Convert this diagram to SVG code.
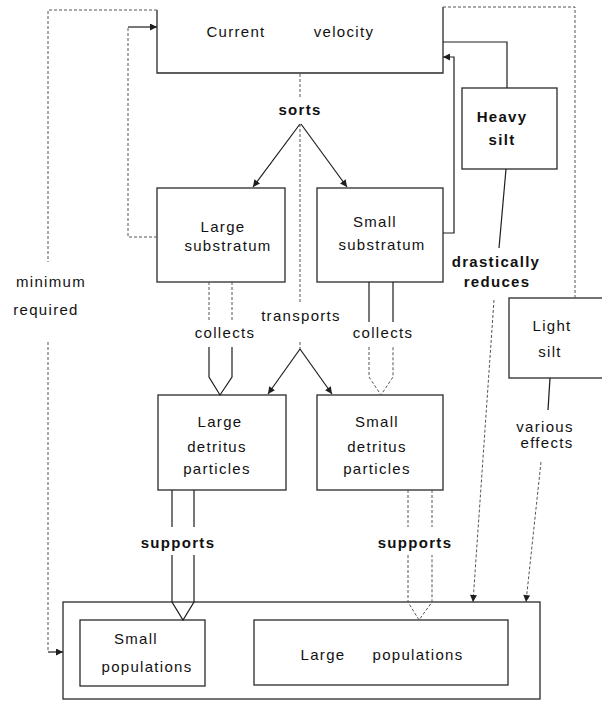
<svg xmlns="http://www.w3.org/2000/svg" width="602" height="701" viewBox="0 0 602 701">
<style>
.box{fill:none;stroke:#2a2a2a;stroke-width:1.3}
.ln{fill:none;stroke:#1e1e1e;stroke-width:1.2}
.dl{fill:none;stroke:#555;stroke-width:1;stroke-dasharray:3 2}
.t{font-family:"Liberation Sans",Arial,sans-serif;font-size:15px;letter-spacing:1.3px;fill:#111;text-anchor:middle}
.b{font-weight:bold}
</style>
<defs>
<marker id="ah" viewBox="0 0 10 10" refX="10" refY="5" markerWidth="8" markerHeight="7" markerUnits="userSpaceOnUse" orient="auto">
<path d="M0,0 L10,5 L0,10 z" fill="#1e1e1e"/>
</marker>
</defs>
<rect width="602" height="701" fill="#fff"/>

<g id="current-velocity">
<path class="box" d="M157,10 V73 H443 V7"/>
<text class="t"><tspan x="236" y="37">Current</tspan><tspan x="344" y="37">velocity</tspan></text>
</g>
<g id="heavy-silt">
<rect class="box" x="462" y="88" width="95" height="81"/>
<text class="t b" x="502" y="122">Heavy</text>
<text class="t b" x="502" y="145">silt</text>
</g>
<g id="large-substratum">
<rect class="box" x="157" y="188" width="128" height="94"/>
<text class="t" x="223" y="232">Large</text>
<text class="t" x="228" y="251">substratum</text>
</g>
<g id="small-substratum">
<rect class="box" x="317" y="188" width="126" height="94"/>
<text class="t" x="375" y="227">Small</text>
<text class="t" x="382" y="250">substratum</text>
</g>
<g id="light-silt">
<rect class="box" x="509" y="298" width="97" height="80"/>
<text class="t" x="552" y="331">Light</text>
<text class="t" x="550" y="357">silt</text>
</g>
<g id="large-detritus">
<rect class="box" x="158" y="395" width="128" height="95"/>
<text class="t" x="220" y="427">Large</text>
<text class="t" x="217" y="452">detritus</text>
<text class="t" x="217" y="474">particles</text>
</g>
<g id="small-detritus">
<rect class="box" x="317" y="395" width="126" height="95"/>
<text class="t" x="377" y="427">Small</text>
<text class="t" x="377" y="452">detritus</text>
<text class="t" x="377" y="474">particles</text>
</g>
<g id="populations">
<rect class="box" x="63" y="602" width="477" height="97"/>
</g>
<g id="small-populations">
<rect class="box" x="80" y="620" width="125" height="66"/>
<text class="t" x="136" y="644">Small</text>
<text class="t" x="147" y="672">populations</text>
</g>
<g id="large-populations">
<rect class="box" x="254" y="620" width="254" height="65"/>
<text class="t"><tspan x="323" y="660">Large</tspan><tspan x="418" y="660">populations</tspan></text>
</g>

<g id="connectors">
<!-- sorts -->
<path class="dl" d="M300,74 V98"/>
<path class="ln" d="M300,124 L253,187" marker-end="url(#ah)"/>
<path class="ln" d="M301,124 L347,187" marker-end="url(#ah)"/>
<!-- transports -->
<path class="dl" d="M300,124 V303"/>
<path class="dl" d="M300,342 V349"/>
<path class="ln" d="M300,349 L268,394" marker-end="url(#ah)"/>
<path class="ln" d="M300,349 L332,394" marker-end="url(#ah)"/>
<!-- substratum feedback to current velocity -->
<path class="dl" d="M157,237 H128 V27"/>
<path class="ln" d="M128,27 H157" marker-end="url(#ah)"/>
<path class="ln" d="M443,233 H454 V57 H443" marker-end="url(#ah)"/>
<!-- heavy silt -->
<path class="ln" d="M507,88 V42 H443"/>
<path class="ln" d="M506,169 L499,248"/>
<path class="dl" d="M494,300 L473,602" marker-end="url(#ah)"/>
<!-- light silt -->
<path class="dl" d="M575,298 V7 H443"/>
<path class="ln" d="M550,378 L548,410"/>
<path class="dl" d="M541,462 L526,602" marker-end="url(#ah)"/>
<!-- minimum required -->
<path class="dl" d="M157,10 H48 V262"/>
<path class="dl" d="M48,342 V652"/>
<path class="ln" d="M48,652 H63" marker-end="url(#ah)"/>
<!-- collects -->
<path class="dl" d="M209,282 V322 M232,282 V322"/>
<path class="ln" d="M209,347 V377 L220,395 L232,377 V347"/>
<path class="ln" d="M369,282 V322 M393,282 V322"/>
<path class="dl" d="M369,347 V377 L381,395 L393,377 V347"/>
<!-- supports -->
<path class="ln" d="M172,490 V527 M194,490 V527"/>
<path class="ln" d="M172,555 V602 L183,620 L194,602 V555"/>
<path class="dl" d="M408,490 V527 M432,490 V527"/>
<path class="dl" d="M408,555 V602 L419,620 L432,602 V555"/>
</g>

<g id="labels">
<text class="t b" x="300" y="115">sorts</text>
<text class="t" x="301" y="321">transports</text>
<text class="t" x="225" y="338">collects</text>
<text class="t" x="383" y="338">collects</text>
<text class="t b" x="496" y="267">drastically</text>
<text class="t b" x="497" y="287">reduces</text>
<text class="t" x="545" y="432">various</text>
<text class="t" x="547" y="448">effects</text>
<text class="t b" x="178" y="548">supports</text>
<text class="t b" x="415" y="548">supports</text>
<text class="t" x="51" y="287">minimum</text>
<text class="t" x="46" y="315">required</text>
</g>
</svg>
